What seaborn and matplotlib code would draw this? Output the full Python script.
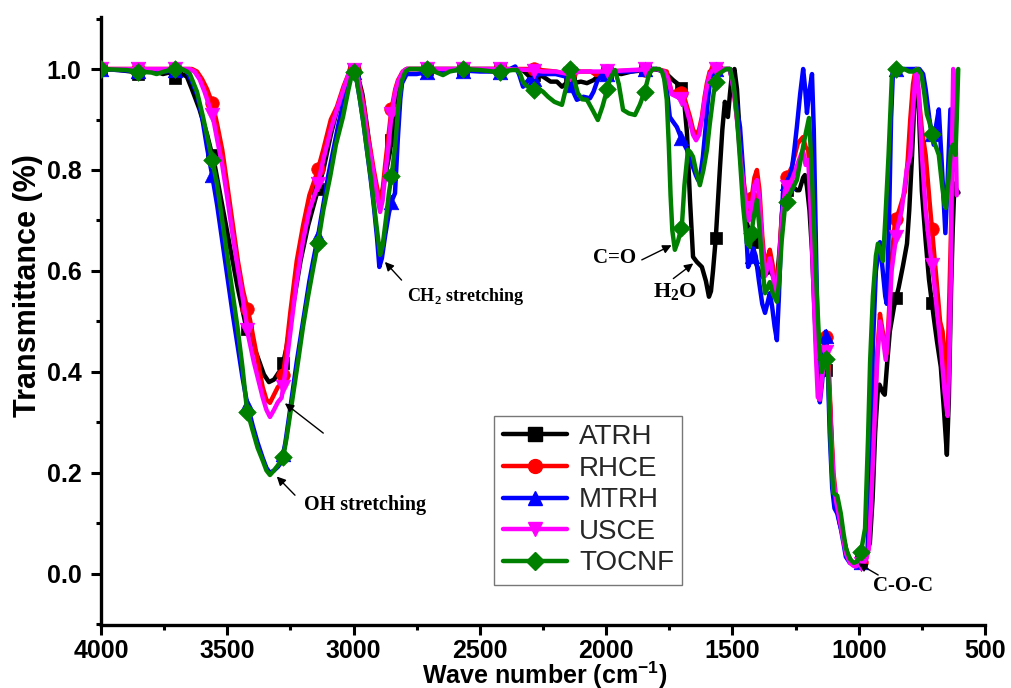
import numpy as np
import pandas as pd
import matplotlib
matplotlib.use("Agg")
import matplotlib.pyplot as plt
import seaborn as sns
from matplotlib.lines import Line2D
from matplotlib.ticker import MultipleLocator, FormatStrFormatter

# ---------------- data ----------------
series_names = ["ATRH", "RHCE", "MTRH", "USCE", "TOCNF"]
series_colors = ["#000000", "#ff0000", "#0000ff", "#ff00ff", "#008000"]
series_markers = ["s", "o", "^", "v", "D"]
marker_wn = [4000, 3853, 3707, 3560, 3420, 3279, 3141, 2997, 2850, 2708, 2567,
             2422, 2284, 2143, 1996, 1848, 1703, 1566, 1424, 1285, 1130, 992, 852, 710]

atrh_wn = [4000, 3930, 3880, 3855, 3820, 3780, 3755, 3730, 3700, 3680, 3660, 3640, 3610, 3580, 3550,
           3520, 3490, 3460, 3430, 3410, 3380, 3355, 3335, 3315, 3295, 3283, 3265, 3240, 3210, 3180,
           3150, 3120, 3090, 3060, 3030, 3010, 3000, 2985, 2965, 2945, 2925, 2910, 2898, 2885, 2870,
           2856, 2840, 2825, 2810, 2790, 2700, 2600, 2500, 2400, 2330, 2302, 2280, 2250, 2220, 2195,
           2175, 2150, 2130, 2100, 2076, 2050, 2036, 2010, 1980, 1940, 1900, 1860, 1815, 1780, 1760,
           1735, 1715, 1700, 1690, 1680, 1668, 1656, 1641, 1621, 1605, 1593, 1585, 1577, 1566, 1550,
           1540, 1530, 1518, 1510, 1502, 1492, 1482, 1470, 1458, 1445, 1435, 1423, 1410, 1395, 1380,
           1365, 1352, 1338, 1324, 1312, 1300, 1285, 1261, 1245, 1235, 1220, 1213, 1205, 1195, 1185,
           1175, 1165, 1158, 1150, 1135, 1122, 1112, 1102, 1090, 1075, 1060, 1045, 1030, 1015, 1000,
           985, 970, 956, 945, 935, 925, 918, 905, 897, 887, 877, 860, 842, 825, 809,
           800, 789, 780, 772, 762, 750, 735, 722, 703, 690, 675, 662, 651, 643, 635,
           628, 621, 612, 605]
atrh_t = [1.0, 0.998, 0.995, 0.99, 0.997, 0.995, 0.99, 0.993, 0.98, 0.99, 0.985, 0.96, 0.92, 0.87, 0.81,
          0.73, 0.65, 0.57, 0.50, 0.47, 0.43, 0.395, 0.38, 0.385, 0.40, 0.408, 0.45, 0.53, 0.62, 0.69,
          0.745, 0.80, 0.87, 0.93, 0.975, 0.995, 1.0, 0.99, 0.95, 0.88, 0.80, 0.76, 0.74, 0.76, 0.80,
          0.836, 0.90, 0.96, 0.99, 1.0, 1.0, 1.0, 1.0, 1.0, 0.998, 0.984, 0.99, 0.985, 0.975, 0.975,
          0.965, 0.975, 0.972, 0.975, 0.972, 0.978, 0.984, 0.99, 0.993, 0.99, 0.995, 0.997, 1.0, 0.997, 0.99,
          0.978, 0.97, 0.96, 0.93, 0.873, 0.74, 0.628, 0.618, 0.608, 0.58, 0.549, 0.56, 0.60, 0.665, 0.80,
          0.88, 0.935, 0.905, 0.95, 0.99, 1.0, 0.96, 0.86, 0.754, 0.70, 0.68, 0.655, 0.62, 0.60, 0.588,
          0.595, 0.60, 0.59, 0.58, 0.65, 0.74, 0.76, 0.767, 0.76, 0.76, 0.785, 0.79, 0.767, 0.72, 0.64,
          0.52, 0.42, 0.38, 0.385, 0.40, 0.408, 0.32, 0.19, 0.14, 0.10, 0.07, 0.04, 0.025, 0.02, 0.025,
          0.03, 0.04, 0.061, 0.15, 0.28, 0.36, 0.375, 0.36, 0.355, 0.42, 0.48, 0.53, 0.567, 0.61, 0.654,
          0.72, 0.828, 0.93, 1.0, 0.92, 0.758, 0.66, 0.584, 0.508, 0.46, 0.41, 0.32, 0.236, 0.35, 0.55,
          0.68, 0.773, 0.76, 0.755]

rhce_wn = [4000, 3900, 3800, 3700, 3640, 3620, 3600, 3580, 3557, 3540, 3520, 3500, 3477, 3458, 3438,
           3410, 3380, 3360, 3345, 3331, 3315, 3300, 3283, 3270, 3250, 3225, 3200, 3175, 3145, 3120,
           3090, 3066, 3040, 3020, 3000, 2985, 2975, 2960, 2947, 2933, 2920, 2907, 2895, 2885, 2875,
           2864, 2850, 2835, 2824, 2805, 2790, 2700, 2600, 2500, 2400, 2300, 2200, 2155, 2120, 2060,
           2040, 2000, 1900, 1800, 1760, 1740, 1716, 1700, 1688, 1668, 1656, 1644, 1632, 1621, 1610,
           1601, 1590, 1570, 1530, 1510, 1495, 1478, 1468, 1458, 1445, 1435, 1425, 1413, 1403, 1393,
           1382, 1371, 1362, 1352, 1340, 1330, 1324, 1315, 1305, 1292, 1280, 1265, 1250, 1241, 1221,
           1210, 1200, 1190, 1180, 1170, 1162, 1155, 1145, 1132, 1120, 1110, 1100, 1090, 1080, 1071,
           1060, 1050, 1035, 1020, 1005, 990, 975, 963, 950, 936, 926, 916, 905, 895, 889,
           880, 870, 857, 840, 817, 806, 796, 785, 775, 765, 750, 735, 720, 703, 690,
           678, 668, 658, 652, 645, 635, 628, 622]
rhce_t = [1.0, 1.0, 1.0, 1.0, 1.0, 0.995, 0.98, 0.96, 0.929, 0.89, 0.84, 0.77, 0.687, 0.62, 0.562,
          0.503, 0.424, 0.37, 0.345, 0.339, 0.355, 0.37, 0.378, 0.43, 0.52, 0.62, 0.69, 0.75, 0.794, 0.84,
          0.90, 0.925, 0.965, 0.99, 1.0, 0.99, 0.965, 0.93, 0.88, 0.84, 0.80, 0.765, 0.735, 0.76, 0.81,
          0.859, 0.92, 0.96, 0.978, 0.995, 1.0, 1.0, 1.0, 1.0, 1.0, 1.0, 0.995, 0.99, 0.995, 0.995,
          0.988, 0.995, 0.997, 1.0, 0.995, 0.952, 0.958, 0.95, 0.939, 0.905, 0.88, 0.869, 0.88, 0.905, 0.945,
          0.972, 0.995, 1.0, 1.0, 1.0, 0.96, 0.885, 0.83, 0.786, 0.74, 0.72, 0.74, 0.785, 0.80, 0.76,
          0.67, 0.608, 0.625, 0.642, 0.61, 0.575, 0.568, 0.62, 0.71, 0.78, 0.79, 0.806, 0.835, 0.853, 0.865,
          0.845, 0.84, 0.76, 0.62, 0.48, 0.38, 0.37, 0.42, 0.477, 0.43, 0.30, 0.20, 0.152, 0.13, 0.097,
          0.07, 0.045, 0.025, 0.02, 0.022, 0.025, 0.035, 0.047, 0.18, 0.34, 0.44, 0.515, 0.48, 0.445, 0.437,
          0.52, 0.62, 0.696, 0.72, 0.758, 0.82, 0.90, 0.97, 1.0, 0.96, 0.88, 0.83, 0.74, 0.644, 0.57,
          0.50, 0.48, 0.42, 0.375, 0.48, 0.67, 0.85, 0.97]

mtrh_wn = [4000, 3900, 3855, 3800, 3750, 3710, 3680, 3660, 3640, 3620, 3600, 3580, 3560, 3540, 3520,
           3500, 3480, 3460, 3440, 3422, 3400, 3380, 3360, 3345, 3331, 3315, 3300, 3285, 3270, 3250,
           3225, 3200, 3175, 3160, 3140, 3120, 3100, 3080, 3060, 3040, 3020, 3002, 2990, 2975, 2960,
           2947, 2933, 2920, 2907, 2898, 2888, 2875, 2860, 2848, 2836, 2825, 2815, 2808, 2790, 2750,
           2700, 2600, 2500, 2400, 2360, 2345, 2329, 2305, 2290, 2270, 2240, 2200, 2160, 2135, 2116,
           2090, 2064, 2050, 2036, 2015, 1990, 1950, 1900, 1850, 1800, 1775, 1760, 1748, 1740, 1720,
           1700, 1680, 1666, 1656, 1645, 1636, 1627, 1617, 1607, 1597, 1588, 1575, 1560, 1530, 1510,
           1495, 1482, 1470, 1458, 1448, 1438, 1428, 1418, 1408, 1395, 1382, 1371, 1362, 1352, 1343,
           1333, 1324, 1316, 1308, 1300, 1288, 1275, 1265, 1255, 1245, 1232, 1220, 1212, 1205, 1197,
           1185, 1178, 1172, 1166, 1160, 1154, 1145, 1131, 1122, 1115, 1105, 1096, 1085, 1071, 1060,
           1051, 1035, 1020, 1000, 985, 977, 965, 955, 944, 932, 916, 905, 895, 889, 880,
           872, 864, 850, 820, 780, 760, 745, 735, 720, 703, 693, 683, 672, 657, 648,
           637, 630, 625]
mtrh_t = [1.0, 0.997, 0.995, 0.998, 0.995, 0.997, 1.0, 0.995, 0.975, 0.95, 0.905, 0.844, 0.79, 0.73, 0.66,
          0.59, 0.52, 0.455, 0.39, 0.339, 0.295, 0.26, 0.23, 0.21, 0.20, 0.205, 0.212, 0.222, 0.26, 0.33,
          0.42, 0.50, 0.58, 0.62, 0.671, 0.73, 0.79, 0.84, 0.89, 0.935, 0.975, 1.0, 0.985, 0.94, 0.89,
          0.84, 0.785, 0.73, 0.665, 0.608, 0.625, 0.67, 0.715, 0.74, 0.754, 0.86, 0.94, 0.972, 0.99, 0.99,
          0.995, 0.998, 0.995, 0.995, 1.005, 0.99, 0.965, 0.98, 0.975, 0.99, 0.99, 0.99, 0.985, 0.96, 0.939,
          0.945, 0.942, 0.955, 0.975, 0.99, 0.99, 0.995, 0.995, 1.0, 1.0, 0.995, 0.96, 0.905, 0.899, 0.885,
          0.86, 0.84, 0.82, 0.806, 0.79, 0.78, 0.79, 0.826, 0.88, 0.939, 0.98, 1.0, 1.0, 1.0, 1.0,
          0.96, 0.92, 0.885, 0.80, 0.70, 0.608, 0.62, 0.645, 0.63, 0.58, 0.535, 0.517, 0.535, 0.556, 0.53,
          0.49, 0.463, 0.55, 0.66, 0.754, 0.77, 0.785, 0.80, 0.84, 0.885, 0.95, 1.0, 0.96, 0.913, 0.95,
          0.99, 0.88, 0.72, 0.556, 0.40, 0.34, 0.38, 0.48, 0.40, 0.28, 0.17, 0.13, 0.12, 0.09, 0.06,
          0.034, 0.022, 0.02, 0.022, 0.025, 0.03, 0.05, 0.20, 0.45, 0.60, 0.657, 0.60, 0.55, 0.535, 0.70,
          0.90, 1.0, 1.0, 1.0, 1.0, 1.0, 0.99, 0.96, 0.90, 0.85, 0.89, 0.92, 0.82, 0.675, 0.78,
          0.92, 0.85, 0.80]

usce_wn = [4000, 3900, 3800, 3700, 3650, 3630, 3610, 3590, 3557, 3540, 3520, 3500, 3480, 3460, 3440,
           3415, 3395, 3375, 3360, 3345, 3331, 3315, 3300, 3285, 3270, 3250, 3225, 3200, 3175, 3145,
           3120, 3090, 3066, 3040, 3020, 3000, 2985, 2975, 2960, 2947, 2933, 2920, 2907, 2895, 2885,
           2875, 2862, 2850, 2835, 2824, 2805, 2790, 2700, 2600, 2500, 2400, 2300, 2250, 2200, 2150,
           2100, 2000, 1900, 1800, 1770, 1755, 1740, 1720, 1700, 1688, 1668, 1656, 1644, 1632, 1621,
           1610, 1601, 1590, 1575, 1510, 1495, 1478, 1468, 1458, 1445, 1435, 1425, 1413, 1403, 1393,
           1382, 1371, 1362, 1352, 1340, 1330, 1324, 1315, 1305, 1292, 1280, 1265, 1250, 1240, 1221,
           1210, 1200, 1190, 1180, 1170, 1162, 1154, 1145, 1127, 1118, 1110, 1100, 1090, 1080, 1071,
           1060, 1050, 1035, 1020, 1012, 1000, 985, 970, 960, 950, 936, 926, 916, 905, 893,
           880, 870, 849, 830, 810, 796, 785, 775, 770, 762, 750, 735, 720, 703, 690,
           675, 660, 648, 640, 635, 632, 626, 618, 612]
usce_t = [1.0, 1.0, 1.0, 1.0, 1.0, 0.995, 0.98, 0.955, 0.905, 0.86, 0.81, 0.745, 0.675, 0.61, 0.55,
          0.467, 0.42, 0.38, 0.35, 0.325, 0.311, 0.325, 0.34, 0.349, 0.40, 0.48, 0.58, 0.66, 0.72, 0.764,
          0.82, 0.88, 0.92, 0.96, 0.99, 1.0, 0.99, 0.96, 0.92, 0.87, 0.83, 0.79, 0.75, 0.717, 0.74,
          0.79, 0.846, 0.91, 0.955, 0.975, 0.995, 1.0, 1.0, 1.0, 1.0, 1.0, 0.998, 0.995, 0.995, 0.99,
          0.995, 0.995, 0.998, 1.0, 0.995, 0.98, 0.95, 0.945, 0.94, 0.93, 0.895, 0.87, 0.859, 0.87, 0.90,
          0.94, 0.965, 0.99, 1.0, 1.0, 0.96, 0.88, 0.82, 0.78, 0.72, 0.70, 0.72, 0.77, 0.78, 0.74,
          0.65, 0.59, 0.605, 0.625, 0.59, 0.56, 0.555, 0.61, 0.70, 0.76, 0.77, 0.78, 0.80, 0.815, 0.84,
          0.81, 0.82, 0.72, 0.58, 0.44, 0.35, 0.345, 0.39, 0.45, 0.38, 0.28, 0.19, 0.145, 0.12, 0.095,
          0.065, 0.04, 0.022, 0.016, 0.015, 0.018, 0.022, 0.03, 0.05, 0.15, 0.32, 0.43, 0.50, 0.47, 0.424,
          0.50, 0.60, 0.679, 0.72, 0.80, 0.828, 0.92, 0.99, 1.0, 0.95, 0.83, 0.72, 0.65, 0.584, 0.52,
          0.45, 0.36, 0.313, 0.45, 0.60, 0.80, 1.0, 0.92, 0.75]

tocnf_wn = [4000, 3900, 3855, 3800, 3780, 3750, 3710, 3680, 3660, 3648, 3620, 3596, 3560, 3540, 3520,
            3500, 3480, 3460, 3440, 3422, 3400, 3380, 3360, 3345, 3331, 3315, 3300, 3279, 3265, 3250,
            3235, 3220, 3200, 3180, 3160, 3141, 3120, 3093, 3070, 3042, 3020, 3002, 2990, 2975, 2960,
            2947, 2933, 2920, 2907, 2895, 2885, 2870, 2860, 2848, 2835, 2822, 2810, 2795, 2780, 2710,
            2680, 2646, 2620, 2570, 2500, 2430, 2400, 2370, 2353, 2340, 2329, 2314, 2282, 2265, 2250,
            2230, 2205, 2175, 2160, 2143, 2130, 2112, 2095, 2076, 2055, 2033, 2015, 2000, 1985, 1965,
            1950, 1933, 1910, 1886, 1866, 1846, 1830, 1815, 1790, 1779, 1770, 1760, 1752, 1745, 1738,
            1728, 1715, 1700, 1690, 1676, 1666, 1656, 1645, 1629, 1615, 1601, 1590, 1575, 1561, 1540,
            1525, 1510, 1495, 1482, 1470, 1458, 1443, 1431, 1418, 1403, 1392, 1380, 1371, 1362, 1352,
            1340, 1324, 1315, 1305, 1292, 1275, 1260, 1245, 1230, 1215, 1197, 1188, 1178, 1166, 1156,
            1146, 1135, 1124, 1116, 1108, 1100, 1085, 1071, 1060, 1050, 1035, 1020, 1005, 990, 975,
            963, 955, 944, 932, 924, 914, 904, 895, 882, 869, 860, 840, 820, 800, 785,
            775, 765, 752, 740, 730, 720, 705, 690, 683, 670, 660, 655, 645, 635, 627,
            617, 612, 606]
tocnf_t = [1.0, 0.998, 0.995, 0.993, 0.99, 0.995, 1.0, 1.0, 0.995, 0.99, 0.955, 0.905, 0.82, 0.77, 0.70,
           0.63, 0.56, 0.49, 0.41, 0.325, 0.285, 0.25, 0.225, 0.205, 0.196, 0.205, 0.215, 0.231, 0.27, 0.32,
           0.37, 0.42, 0.49, 0.55, 0.605, 0.655, 0.72, 0.786, 0.85, 0.905, 0.96, 1.0, 0.985, 0.94, 0.89,
           0.84, 0.79, 0.735, 0.68, 0.632, 0.65, 0.71, 0.755, 0.794, 0.85, 0.93, 0.975, 0.995, 1.0, 1.0,
           0.995, 0.988, 0.995, 1.0, 0.998, 0.994, 0.996, 0.998, 0.998, 0.99, 0.974, 0.966, 0.958, 0.96, 0.955,
           0.945, 0.935, 0.929, 0.96, 1.0, 0.985, 0.952, 0.94, 0.939, 0.92, 0.899, 0.925, 0.952, 0.98, 0.998,
           0.97, 0.919, 0.912, 0.909, 0.93, 0.958, 0.99, 1.0, 1.0, 0.995, 0.98, 0.939, 0.85, 0.75, 0.68,
           0.642, 0.66, 0.691, 0.77, 0.84, 0.835, 0.826, 0.80, 0.77, 0.80, 0.84, 0.89, 0.95, 0.988, 0.995,
           1.0, 1.0, 0.97, 0.905, 0.82, 0.73, 0.655, 0.648, 0.70, 0.74, 0.68, 0.60, 0.556, 0.565, 0.578,
           0.555, 0.539, 0.58, 0.66, 0.727, 0.75, 0.765, 0.78, 0.82, 0.86, 0.903, 0.82, 0.70, 0.556, 0.45,
           0.40, 0.42, 0.434, 0.33, 0.22, 0.16, 0.155, 0.12, 0.08, 0.05, 0.03, 0.022, 0.025, 0.047, 0.09,
           0.271, 0.42, 0.55, 0.63, 0.654, 0.64, 0.62, 0.70, 0.828, 0.982, 1.0, 1.0, 1.0, 0.995, 0.995,
           0.998, 1.0, 0.99, 0.95, 0.91, 0.895, 0.86, 0.84, 0.83, 0.77, 0.73, 0.725, 0.78, 0.84, 0.85,
           0.83, 0.9, 1.0]

series_wn = [atrh_wn, rhce_wn, mtrh_wn, usce_wn, tocnf_wn]
series_t = [atrh_t, rhce_t, mtrh_t, usce_t, tocnf_t]

x_ticks = [4000, 3500, 3000, 2500, 2000, 1500, 1000, 500]
y_ticks = [0.0, 0.2, 0.4, 0.6, 0.8, 1.0]

# ---------------- style ----------------
sns.set_theme(style="ticks")
plt.rcParams["font.family"] = ["Liberation Sans", "DejaVu Sans"]
plt.rcParams["mathtext.fontset"] = "custom"
plt.rcParams["mathtext.rm"] = "Liberation Serif:bold"
plt.rcParams["mathtext.bf"] = "Liberation Serif:bold"
plt.rcParams["mathtext.sf"] = "Liberation Sans:bold"

fig = plt.figure(figsize=(10.11, 6.88), dpi=100)
ax = fig.add_axes([0.0999, 0.0916, 0.8744, 0.8837])

marker_sizes = {"s": 75, "o": 95, "^": 110, "v": 110, "D": 80}

for i, (name, c, m, wn, t) in enumerate(zip(series_names, series_colors, series_markers,
                                             series_wn, series_t)):
    df = pd.DataFrame({"wn": wn, "t": t})
    sns.lineplot(data=df, x="wn", y="t", sort=False, estimator=None, color=c,
                 lw=3.2, ax=ax, zorder=2 + 2 * i, legend=False)
    wn_arr = np.asarray(wn, dtype=float)
    t_arr = np.asarray(t, dtype=float)
    mx = np.array([v for v in marker_wn if wn_arr.min() <= v <= wn_arr.max()], dtype=float)
    my = np.interp(mx, wn_arr[::-1], t_arr[::-1])
    sns.scatterplot(x=mx, y=my, marker=m, s=marker_sizes[m], color=c, edgecolor=c,
                    linewidth=0.5, ax=ax, zorder=3 + 2 * i, legend=False)

ax.set_xlim(4000, 500)
ax.set_ylim(-0.101, 1.103)
ax.set_xticks(x_ticks)
ax.set_yticks(y_ticks)
ax.xaxis.set_minor_locator(MultipleLocator(250))
ax.yaxis.set_minor_locator(MultipleLocator(0.1))
ax.yaxis.set_major_formatter(FormatStrFormatter("%.1f"))

for s in ["top", "right"]:
    ax.spines[s].set_visible(False)
for s in ["left", "bottom"]:
    ax.spines[s].set_linewidth(2.4)
    ax.spines[s].set_color("black")

ax.tick_params(axis="both", which="major", direction="out", length=7, width=2.2,
               labelsize=18, colors="black")
ax.tick_params(axis="x", which="major", pad=3)
ax.tick_params(axis="y", which="major", pad=7)
ax.tick_params(axis="both", which="minor", direction="out", length=3.5, width=2.2, colors="black")
for lab in ax.get_xticklabels() + ax.get_yticklabels():
    lab.set_fontweight("bold")

ax.set_xlabel(r"Wave number (cm$^{\mathsf{-1}}$)", fontsize=18, fontweight="bold", color="black")
ax.set_ylabel("Transmittance (%)", fontsize=22, fontweight="bold", color="black")
ax.xaxis.set_label_coords(0.502, -0.0565)
ax.yaxis.set_label_coords(-0.066, 0.559)

# legend
handles = [Line2D([0], [0], color=c, lw=3.2, marker=m, markersize=10 if m != "D" else 9.5,
                  markeredgecolor=c) for c, m in zip(series_colors, series_markers)]
leg = ax.legend(handles, series_names, loc="upper left", bbox_to_anchor=(0.445, 0.344),
                frameon=True, fancybox=False, edgecolor="#555555", fontsize=20,
                handlelength=2.3, handletextpad=0.45, labelspacing=0.2, borderpad=0.3,
                borderaxespad=0)
leg.get_frame().set_linewidth(1.0)
leg.set_zorder(20)

# annotations
def serif_bold(size):
    return dict(family=["Liberation Serif", "DejaVu Serif"], fontweight="bold",
                fontsize=size, color="black", ha="center", va="center", zorder=25)

arrow_kw = dict(arrowstyle="-|>", color="black", lw=1.0, mutation_scale=13,
                shrinkA=0, shrinkB=0)

arrows = [((3232, 0.156), (3304, 0.193)),
          ((3120, 0.279), (3272, 0.338)),
          ((2810, 0.582), (2876, 0.618)),
          ((1859, 0.622), (1741, 0.651)),
          ((1734, 0.585), (1655, 0.615)),
          ((923, -0.002), (1002, 0.021))]
for tail, tip in arrows:
    ax.annotate("", xy=tip, xytext=tail, arrowprops=arrow_kw, zorder=25)

ax.text(2955, 0.137, "OH stretching", **serif_bold(14.5))
ax.text(2555, 0.549, r"CH$_{\mathbf{2}}$ stretching", **serif_bold(13))
ax.text(1965, 0.625, "C=O", **serif_bold(15))
ax.text(1728, 0.558, r"H$_{\mathbf{2}}$O", **serif_bold(16))
ax.text(823, -0.024, "C-O-C", **serif_bold(15))

fig.savefig("out.png", dpi=100)
